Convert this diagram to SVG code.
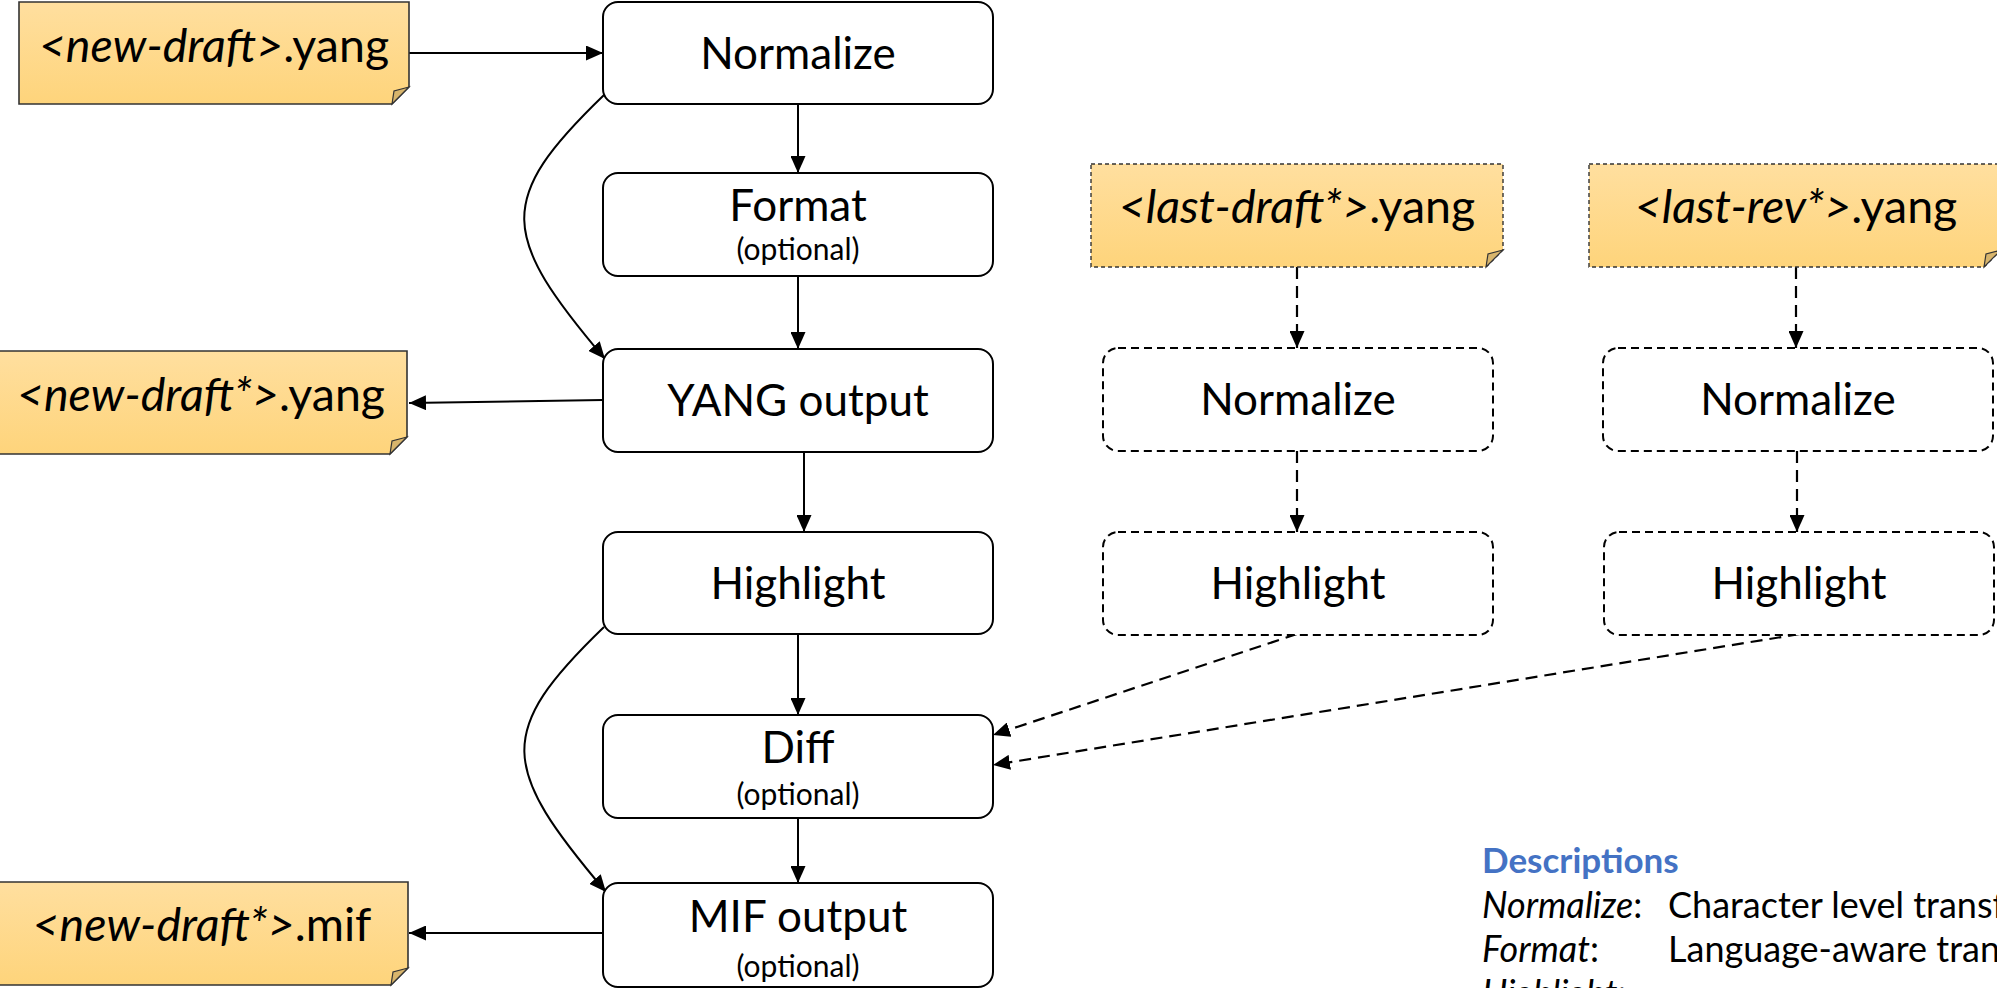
<svg xmlns="http://www.w3.org/2000/svg" width="1997" height="988" viewBox="0 0 1997 988">
<defs>
<linearGradient id="noteFill" x1="0" y1="0" x2="0" y2="1">
<stop offset="0" stop-color="#FFDF9F"/>
<stop offset="1" stop-color="#FED47B"/>
</linearGradient>
<marker id="ah" viewBox="0 0 17 15" refX="17" refY="7.5" markerWidth="17" markerHeight="15" markerUnits="userSpaceOnUse" orient="auto">
<path d="M0,0 L17,7.5 L0,15 z" fill="#000"/>
</marker>
</defs>
<style>
.box{fill:#fff;stroke:#000;stroke-width:2}
.dbox{fill:#fff;stroke:#000;stroke-width:2;stroke-dasharray:8 5}
.note{fill:url(#noteFill);stroke:#333;stroke-width:1.6}
.dnote{fill:url(#noteFill);stroke:#333;stroke-width:1.4;stroke-dasharray:4 3}
.fold{fill:#D8B56C;stroke:#333;stroke-width:1.2}
.lbl{font-family:Lato,"Open Sans",sans-serif;font-size:44px;fill:#000;text-anchor:middle}
.opt{font-family:Lato,"Open Sans",sans-serif;font-size:30px;fill:#000;text-anchor:middle}
.ntxt{font-family:Lato,"Open Sans",sans-serif;font-size:46.5px;fill:#000;text-anchor:middle}
.it{font-style:italic}
.conn{fill:none;stroke:#000;stroke-width:2;marker-end:url(#ah)}
.dconn{fill:none;stroke:#000;stroke-width:2.2;stroke-dasharray:12 7;marker-end:url(#ah)}
.desc{font-family:Lato,"Open Sans",sans-serif;font-size:36px;fill:#000}
.dhead{font-family:Lato,"Open Sans",sans-serif;font-size:35px;font-weight:bold;fill:#4472C4}
</style>
<rect x="0" y="0" width="1997" height="988" fill="#fff"/>

<g id="connectors">
<path class="conn" d="M409,53 L603,53"/>
<path class="conn" d="M798,104 L798,173"/>
<path class="conn" d="M798,276 L798,349"/>
<path class="conn" d="M604,95 C495,200 500,235 605,359"/>
<path class="conn" d="M603,400 L409,403"/>
<path class="conn" d="M804,452 L804,532"/>
<path class="conn" d="M798,634 L798,715"/>
<path class="conn" d="M604,627 C495,732 500,767 606,892"/>
<path class="conn" d="M798,818 L798,883"/>
<path class="conn" d="M603,933 L409,933"/>
<path class="dconn" d="M1297,267 L1297,348"/>
<path class="dconn" d="M1796,267 L1796,348"/>
<path class="dconn" d="M1297,451 L1297,532"/>
<path class="dconn" d="M1797,451 L1797,532"/>
<path class="dconn" d="M1297,634 L993,735"/>
<path class="dconn" d="M1800,634 L993,765"/>
</g>

<g id="note-new-draft">
<path class="note" d="M19,2 L409,2 L409,87 L392,104 L19,104 Z"/>
<path class="fold" d="M409,87 L394,91 L392,104 Z"/>
<text class="ntxt" x="214" y="62"><tspan class="it">&lt;new-draft&gt;</tspan>.yang</text>
</g>

<g id="note-new-draft-yang-out">
<path class="note" d="M-2,351 L407,351 L407,437 L390,454 L-2,454 Z"/>
<path class="fold" d="M407,437 L392,441 L390,454 Z"/>
<text class="ntxt" x="201" y="411"><tspan class="it">&lt;new-draft*&gt;</tspan>.yang</text>
</g>

<g id="note-new-draft-mif">
<path class="note" d="M-2,882 L408,882 L408,968 L391,985 L-2,985 Z"/>
<path class="fold" d="M408,968 L393,972 L391,985 Z"/>
<text class="ntxt" x="202" y="941"><tspan class="it">&lt;new-draft*&gt;</tspan>.mif</text>
</g>

<g id="note-last-draft">
<path class="dnote" d="M1091,164 L1503,164 L1503,250 L1486,267 L1091,267 Z"/>
<path class="fold" d="M1503,250 L1488,254 L1486,267 Z"/>
<text class="ntxt" x="1297" y="223"><tspan class="it">&lt;last-draft*&gt;</tspan>.yang</text>
</g>

<g id="note-last-rev">
<path class="dnote" d="M1589,164 L2001,164 L2001,250 L1984,267 L1589,267 Z"/>
<path class="fold" d="M2001,250 L1986,254 L1984,267 Z"/>
<text class="ntxt" x="1796" y="223"><tspan class="it">&lt;last-rev*&gt;</tspan>.yang</text>
</g>

<g id="normalize">
<rect class="box" x="603" y="2" width="390" height="102" rx="15"/>
<text class="lbl" x="798" y="69">Normalize</text>
</g>

<g id="format">
<rect class="box" x="603" y="173" width="390" height="103" rx="15"/>
<text class="lbl" x="798" y="221">Format</text>
<text class="opt" x="798" y="260">(optional)</text>
</g>

<g id="yang-output">
<rect class="box" x="603" y="349" width="390" height="103" rx="15"/>
<text class="lbl" x="798" y="416">YANG output</text>
</g>

<g id="highlight">
<rect class="box" x="603" y="532" width="390" height="102" rx="15"/>
<text class="lbl" x="798" y="599">Highlight</text>
</g>

<g id="diff">
<rect class="box" x="603" y="715" width="390" height="103" rx="15"/>
<text class="lbl" x="798" y="763">Diff</text>
<text class="opt" x="798" y="805">(optional)</text>
</g>

<g id="mif-output">
<rect class="box" x="603" y="883" width="390" height="104" rx="15"/>
<text class="lbl" x="798" y="932">MIF output</text>
<text class="opt" x="798" y="977">(optional)</text>
</g>

<g id="normalize-last-draft">
<rect class="dbox" x="1103" y="348" width="390" height="103" rx="15"/>
<text class="lbl" x="1298" y="415">Normalize</text>
</g>

<g id="normalize-last-rev">
<rect class="dbox" x="1603" y="348" width="390" height="103" rx="15"/>
<text class="lbl" x="1798" y="415">Normalize</text>
</g>

<g id="highlight-last-draft">
<rect class="dbox" x="1103" y="532" width="390" height="103" rx="15"/>
<text class="lbl" x="1298" y="599">Highlight</text>
</g>

<g id="highlight-last-rev">
<rect class="dbox" x="1604" y="532" width="390" height="103" rx="15"/>
<text class="lbl" x="1799" y="599">Highlight</text>
</g>

<g id="descriptions">
<text class="dhead" x="1482" y="873">Descriptions</text>
<text class="desc" x="1482" y="918"><tspan class="it">Normalize</tspan>:</text>
<text class="desc" x="1668" y="918">Character level transf</text>
<text class="desc" x="1482" y="962"><tspan class="it">Format</tspan>:</text>
<text class="desc" x="1668" y="962">Language-aware trans</text>
<text class="desc" x="1482" y="1006"><tspan class="it">Highlight</tspan>:</text>
</g>
</svg>
